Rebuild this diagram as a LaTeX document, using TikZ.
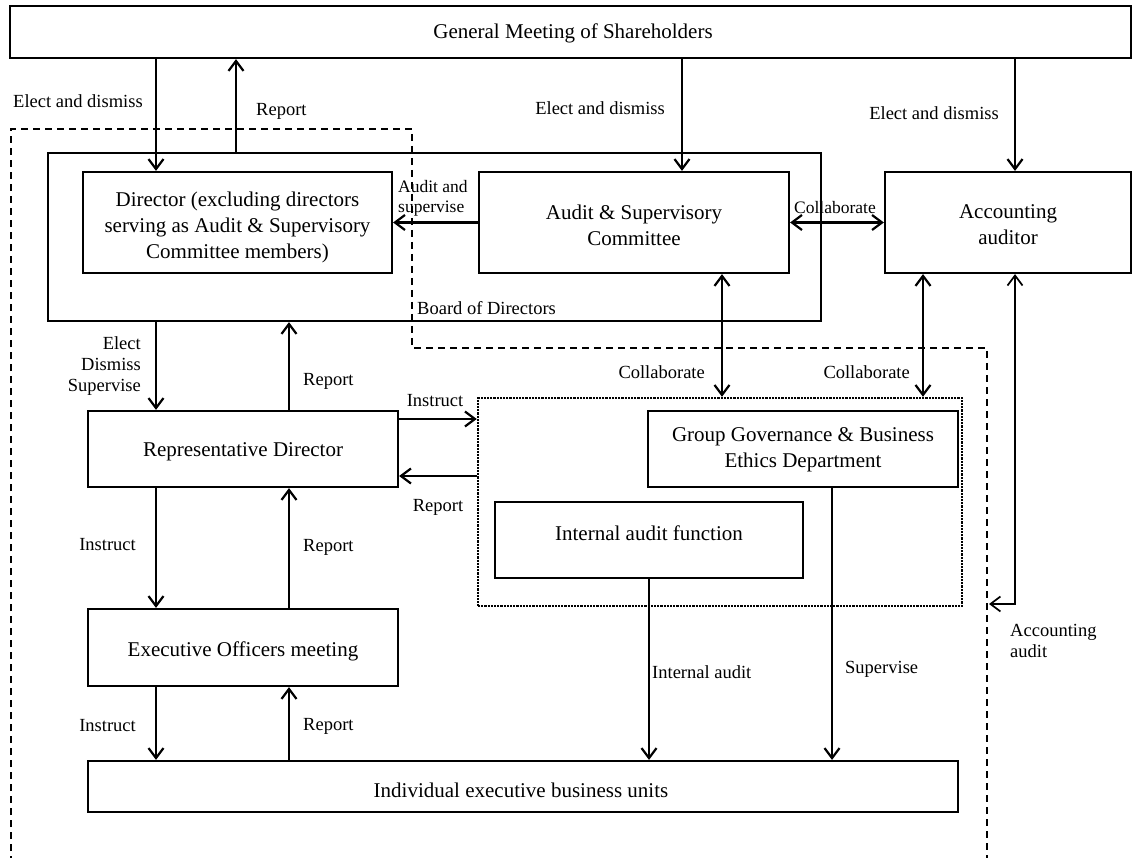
\documentclass[tikz,border=0pt]{standalone}
\usepackage{fontspec}
\setmainfont{Liberation Serif}
\usetikzlibrary{arrows.meta}
\begin{document}
\begin{tikzpicture}[x=1pt,y=-1pt,
  box/.style={draw, line width=2.2pt, inner sep=0pt, rectangle},
  btxt/.style={font=\fontsize{21}{26}\selectfont, align=center, inner sep=0pt},
  lbl/.style={font=\fontsize{18.5}{21}\selectfont, inner sep=0pt, align=left},
  slbl/.style={font=\fontsize{17.5}{20}\selectfont, inner sep=0pt, align=left},
  arr/.style={line width=2.2pt, -{Straight Barb[length=10pt,width=15pt]}},
  darr/.style={line width=2.2pt, {Straight Barb[length=10pt,width=15pt]}-{Straight Barb[length=10pt,width=15pt]}},
  dashline/.style={line width=2.2pt, dash pattern=on 7pt off 5pt},
  dotline/.style={line width=2.4pt, dash pattern=on 2.2pt off 1pt}]
\useasboundingbox (0,0) rectangle (1137,858);
\clip (0,0) rectangle (1137,858);
\fill[white] (0,0) rectangle (1137,858);

% outer dashed region
\draw[dashline] (11,875) -- (11,129) -- (412,129) -- (412,348) -- (987,348) -- (987,875);

% boxes
\node[box, minimum width=1121pt, minimum height=52pt] (gm) at (570.5,32) {};
\node[btxt] (gmt) at (573,33) {General Meeting of Shareholders};

\node[box, minimum width=773pt, minimum height=168pt] (board) at (434.5,237) {};
\node[lbl, anchor=west] (boardt) at (417,308) {Board of Directors};

\node[box, minimum width=309pt, minimum height=101pt] (dir) at (237.5,222.5) {};
\node[btxt] (dirt) at (237.5,227) {Director (excluding directors\\serving as Audit \& Supervisory\\Committee members)};

\node[box, minimum width=310pt, minimum height=101pt] (asc) at (634,222.5) {};
\node[btxt] (asct) at (634,225) {Audit \& Supervisory\\Committee};

\node[box, minimum width=246pt, minimum height=101pt] (acc) at (1008,222.5) {};
\node[btxt] (acct) at (1008,225) {Accounting\\auditor};

\node[box, minimum width=310pt, minimum height=76pt] (rep) at (243,449) {};
\node[btxt] (rept) at (243,452) {Representative Director};

\node[draw, dotline, inner sep=0pt, minimum width=484pt, minimum height=208pt] (dot) at (720,502) {};

\node[box, minimum width=310pt, minimum height=76pt] (gg) at (803,449) {};
\node[btxt] (ggt) at (803,450) {Group Governance \& Business\\Ethics Department};

\node[box, minimum width=308pt, minimum height=76pt] (iaf) at (649,540) {};
\node[btxt] (iaft) at (649,533) {Internal audit function};

\node[box, minimum width=310pt, minimum height=77pt] (eom) at (243,647.5) {};
\node[btxt] (eomt) at (243,651) {Executive Officers meeting};

\node[box, minimum width=870pt, minimum height=51pt] (ieb) at (523,786.5) {};
\node[btxt] (iebt) at (521,790) {Individual executive business units};

% x / y helper coordinates
\coordinate (xa) at (156,0);
\coordinate (xb) at (236,0);
\coordinate (xc) at (682,0);
\coordinate (xd) at (1015,0);
\coordinate (xe) at (722,0);
\coordinate (xf) at (923,0);
\coordinate (xg) at (289,0);
\coordinate (xh) at (649,0);
\coordinate (xi) at (832,0);
\coordinate (yi) at (0,419);
\coordinate (yr) at (0,476);
\coordinate (aacorner) at (1015,604);
\coordinate (aaend) at (989,604);

% connectors
\draw[arr] (gm.south -| xa) -- (dir.north -| xa);
\draw[arr] (board.north -| xb) -- (gm.south -| xb);
\draw[arr] (gm.south -| xc) -- (asc.north -| xc);
\draw[arr] (gm.south -| xd) -- (acc.north -| xd);
\draw[arr] (asc.west) -- (dir.east);
\draw[darr] (asc.east) -- (acc.west);
\draw[darr] (asc.south -| xe) -- (dot.north -| xe);
\draw[darr] (acc.south -| xf) -- (dot.north -| xf);
\draw[darr, line width=1.7pt] (acc.south -| xd) -- (aacorner) -- (aaend);
\draw[arr] (board.south -| xa) -- (rep.north -| xa);
\draw[arr] (rep.north -| xg) -- (board.south -| xg);
\draw[arr] (rep.east |- yi) -- (dot.west |- yi);
\draw[arr] (dot.west |- yr) -- (rep.east |- yr);
\draw[arr] (rep.south -| xa) -- (eom.north -| xa);
\draw[arr] (eom.north -| xg) -- (rep.south -| xg);
\draw[arr] (eom.south -| xa) -- (ieb.north -| xa);
\draw[arr] (ieb.north -| xg) -- (eom.south -| xg);
\draw[arr] (iaf.south -| xh) -- (ieb.north -| xh);
\draw[arr] (gg.south -| xi) -- (ieb.north -| xi);

% labels
\node[lbl, anchor=west] (l1) at (13,101) {Elect and dismiss};
\node[lbl, anchor=west] (l2) at (256,111) {Report};
\node[lbl, anchor=east] (l3) at (665,108) {Elect and dismiss};
\node[lbl, anchor=east] (l4) at (999,113) {Elect and dismiss};
\node[slbl, anchor=west] (l5) at (398,198) {Audit and\\supervise};
\node[slbl] (l6) at (835,208) {Collaborate};
\node[lbl, anchor=east] (l7) at (705,372) {Collaborate};
\node[lbl, anchor=east] (l8) at (910,372) {Collaborate};
\node[lbl, anchor=east, align=right] (l9) at (141,366) {Elect\\Dismiss\\Supervise};
\node[lbl, anchor=west] (l10) at (303,381) {Report};
\node[lbl] (l11) at (435,401) {Instruct};
\node[lbl] (l12) at (438,507) {Report};
\node[lbl, anchor=east] (l13) at (136,545) {Instruct};
\node[lbl, anchor=west] (l14) at (303,547) {Report};
\node[lbl, anchor=east] (l15) at (136,726) {Instruct};
\node[lbl, anchor=west] (l16) at (303,726) {Report};
\node[lbl, anchor=west] (l17) at (652,672) {Internal audit};
\node[lbl, anchor=west] (l18) at (845,669) {Supervise};
\node[lbl, anchor=west] (l19) at (1010,641) {Accounting\\audit};
\end{tikzpicture}
\end{document}
